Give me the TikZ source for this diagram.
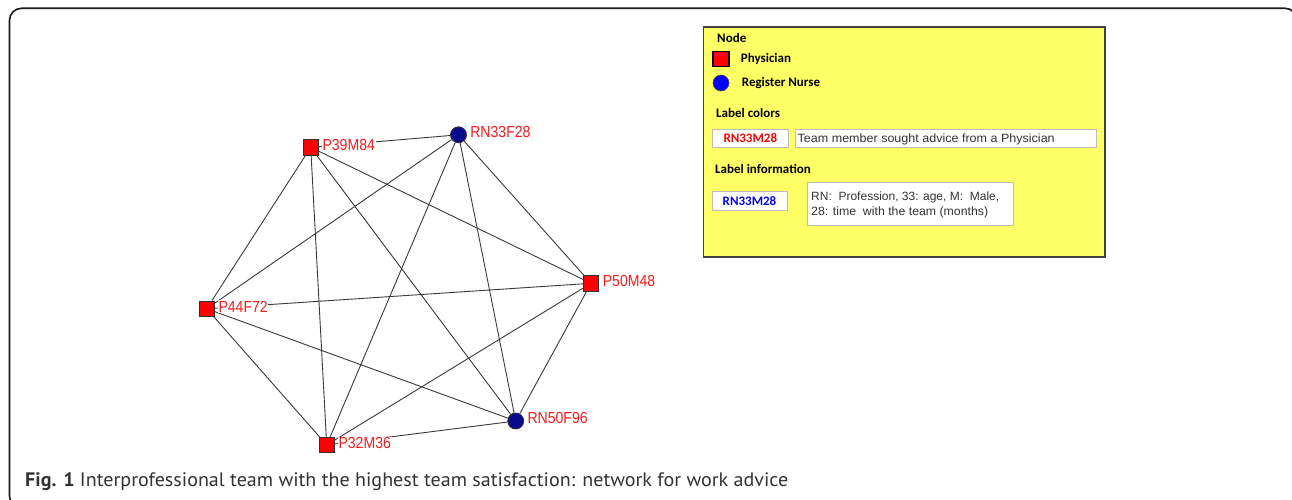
\documentclass[tikz,border=0pt]{standalone}
\usepackage{fontspec}
\usepackage{graphicx}
\setmainfont{Liberation Sans}
\newfontfamily\calib{Carlito}
\newfontfamily\capfont{PT Sans}
\definecolor{edgegray}{HTML}{3A3A3A}
\definecolor{nodeborder}{HTML}{303030}
\definecolor{navy}{HTML}{0A0A8C}
\definecolor{labred}{HTML}{FF1A1A}
\definecolor{legyellow}{HTML}{FFFF66}
\definecolor{legborder}{HTML}{404040}
\definecolor{boxgray}{HTML}{BDBDBD}
\definecolor{txtgray}{HTML}{333333}
\definecolor{framecol}{HTML}{1A1A1A}
\newcommand{\lbl}[1]{\scalebox{0.88}[1]{#1}}
\begin{document}
\begin{tikzpicture}[x=1pt,y=-1pt,
  edge/.style={draw=edgegray, line width=0.9pt},
  phys/.style={rectangle, draw=nodeborder, fill=red, minimum size=15.5pt, inner sep=0pt, line width=0.8pt},
  nurse/.style={circle, draw=nodeborder, fill=navy, minimum size=16pt, inner sep=0pt, line width=0.8pt},
  lab/.style={anchor=base west, fill=white, inner sep=0.6pt, text=labred, font=\fontsize{16}{16}\selectfont},
  legtitle/.style={anchor=base west, inner sep=0pt, font=\calib\bfseries\fontsize{13}{13}\selectfont, text=black},
  wbox/.style={rectangle, draw=boxgray, fill=white, line width=1pt, inner sep=0pt},
  boxtxt/.style={anchor=base west, inner sep=0pt, text=txtgray, font=\fontsize{12}{12}\selectfont}
]
\useasboundingbox (0,0) rectangle (1292,500);
\fill[white] (0,0) rectangle (1292,500);
% frame
\begin{scope}
  \clip (0,0) rectangle (1292,500);
  \draw[line width=1.6pt, framecol, rounded corners=12pt] (9.5,8.3) rectangle (1297,508);
\end{scope}

% network nodes
\node[phys]  (P39)  at (310.7,147.3) {};
\node[nurse] (RN33) at (458.5,134.8) {};
\node[phys]  (P50)  at (591,283.3) {};
\node[phys]  (P44)  at (206.7,308.7) {};
\node[phys]  (P32)  at (326.7,445) {};
\node[nurse] (RN50) at (515.7,421) {};

\foreach \a/\b in {P39/RN33, P39/P50, P39/P44, P39/P32, P39/RN50,
                   RN33/P50, RN33/P44, RN33/P32, RN33/RN50,
                   P50/P44, P50/P32, P50/RN50,
                   P44/P32, P44/RN50, P32/RN50}
  \draw[edge] (\a) -- (\b);

\node[lab] (lP39)  at (321.7,150.5) {\lbl{P39M84}};
\node[lab] (lRN33) at (469.5,138)   {\lbl{RN33F28}};
\node[lab] (lP50)  at (602,286.5)   {\lbl{P50M48}};
\node[lab] (lP44)  at (217.7,312)   {\lbl{P44F72}};
\node[lab] (lP32)  at (337.7,448.3) {\lbl{P32M36}};
\node[lab] (lRN50) at (526.7,423.5) {\lbl{RN50F96}};

% legend
\node[rectangle, draw=legborder, fill=legyellow, line width=1.6pt, minimum width=401.5pt, minimum height=230pt, inner sep=0pt, anchor=north west] (legend) at (702.7,26) {};
\node[legtitle] (tNode) at (717,42.7) {Node};
\node[rectangle, draw=black, fill=red, minimum width=16pt, minimum height=14.5pt, inner sep=0pt, line width=1.2pt] (legsq) at (721,59) {};
\node[legtitle] (tPhys) at (740.7,62.7) {Physician};
\node[circle, draw=black!70, fill=blue, minimum size=16pt, inner sep=0pt, line width=0.6pt] (legci) at (721,83) {};
\node[legtitle] (tRN) at (741.7,86.7) {Register Nurse};
\node[legtitle] (tLC) at (716,117.3) {Label colors};
\node[legtitle] (tLI) at (715,173.3) {Label information};

\node[wbox, minimum width=76pt, minimum height=18pt, text=red, font=\calib\bfseries\fontsize{13}{13}\selectfont] (b1) at (750.3,138.3) {RN33M28};
\node[wbox, minimum width=301pt, minimum height=18pt] (b2) at (946.2,138.3) {};
\node[boxtxt] (t2) at (797.5,142.3) {\resizebox{257pt}{\height}{Team member sought advice from a Physician}};

\node[wbox, minimum width=75pt, minimum height=19pt, text=blue, font=\calib\bfseries\fontsize{13}{13}\selectfont] (b3) at (749.5,201.2) {RN33M28};
\node[wbox, minimum width=206pt, minimum height=42.3pt] (b4) at (910,203.85) {};
\node[boxtxt] (t4a) at (811,200) {\resizebox{188pt}{\height}{RN:\ \ Profession, 33: age, M:\ \ Male,}};
\node[boxtxt] (t4b) at (811,215.5) {\resizebox{177pt}{\height}{28: time\ \ with the team (months)}};

% caption
\node[anchor=base west, inner sep=0pt, text=txtgray] (cap) at (25,486.7)
  {\resizebox{763pt}{\height}{\capfont\fontsize{19.5}{19.5}\selectfont\textbf{Fig. 1} Interprofessional team with the highest team satisfaction: network for work advice}};
\end{tikzpicture}
\end{document}
